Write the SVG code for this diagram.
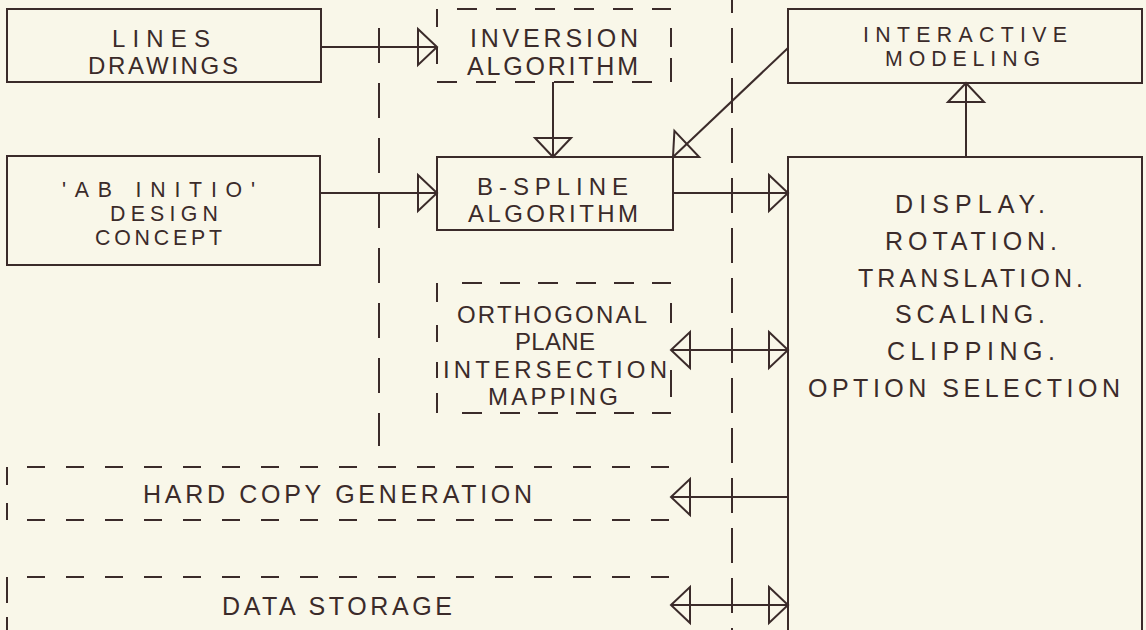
<svg xmlns="http://www.w3.org/2000/svg" width="1146" height="630" viewBox="0 0 1146 630">
<style>
.bg{fill:#f9f7e9}
.box{fill:none;stroke:#3b2b2a;stroke-width:2}
.dash{fill:none;stroke:#3b2b2a;stroke-width:2}
.conn{fill:none;stroke:#3b2b2a;stroke-width:2}
text{font-family:"Liberation Sans",Arial,sans-serif;font-size:25px;fill:#3b2b2a}
text.s24{font-size:24px}
text.s21{font-size:21.3px}
</style>
<defs>
<marker id="ah" markerUnits="userSpaceOnUse" markerWidth="30" markerHeight="44" viewBox="-22 -22 26 44" refX="0" refY="0" orient="auto-start-reverse">
<path d="M-19,-18 L0,0 L-19,18 Z" fill="none" stroke="#3b2b2a" stroke-width="2" stroke-linejoin="miter"/>
</marker>
</defs>
<rect class="bg" x="0" y="0" width="1146" height="630"/>

<g id="boundaries">
<path class="dash" d="M379,28 V446" stroke-dasharray="35 20"/>
<path class="dash" d="M732,-22 V630" stroke-dasharray="35 15"/>
</g>

<g id="lines-drawings">
<rect class="box" x="7" y="9" width="314" height="73"/>
<text class="s24" x="112" y="47" textLength="98" lengthAdjust="spacing">LINES</text>
<text class="s24" x="88" y="74" textLength="150" lengthAdjust="spacing">DRAWINGS</text>
</g>

<g id="ab-initio">
<rect class="box" x="7" y="156" width="313" height="109"/>
<text class="s21" x="62" y="197" textLength="193" lengthAdjust="spacing">'AB INITIO'</text>
<text class="s21" x="110" y="221" textLength="108" lengthAdjust="spacing">DESIGN</text>
<text class="s21" x="95" y="245" textLength="127" lengthAdjust="spacing">CONCEPT</text>
</g>

<g id="inversion">
<path class="dash" d="M457,9 H671" stroke-dasharray="20 19"/>
<path class="dash" d="M437,82 H671" stroke-dasharray="20 19"/>
<path class="dash" d="M437,9 V27 M437,47 V64"/>
<path class="dash" d="M671,28 V47 M671,58 V82"/>
<text x="470" y="47" textLength="168" lengthAdjust="spacing">INVERSION</text>
<text x="467" y="75" textLength="171" lengthAdjust="spacing">ALGORITHM</text>
</g>

<g id="bspline">
<rect class="box" x="437" y="157" width="236" height="73"/>
<text class="s24" x="477" y="195" textLength="151" lengthAdjust="spacing">B-SPLINE</text>
<text class="s24" x="468" y="222" textLength="170" lengthAdjust="spacing">ALGORITHM</text>
</g>

<g id="interactive">
<rect class="box" x="788" y="9" width="354" height="74"/>
<text class="s21" x="863" y="42" textLength="204" lengthAdjust="spacing">INTERACTIVE</text>
<text class="s21" x="885" y="66" textLength="155" lengthAdjust="spacing">MODELING</text>
</g>

<g id="display">
<rect class="box" x="788" y="157" width="354" height="480"/>
<text x="895" y="213" textLength="150" lengthAdjust="spacing">DISPLAY.</text>
<text x="885" y="250" textLength="172" lengthAdjust="spacing">ROTATION.</text>
<text x="858" y="287" textLength="225" lengthAdjust="spacing">TRANSLATION.</text>
<text x="895" y="323" textLength="150" lengthAdjust="spacing">SCALING.</text>
<text x="887" y="360" textLength="168" lengthAdjust="spacing">CLIPPING.</text>
<text x="808" y="397" textLength="312" lengthAdjust="spacing">OPTION SELECTION</text>
</g>

<g id="orthogonal">
<path class="dash" d="M462,283 H671" stroke-dasharray="20 18"/>
<path class="dash" d="M462,413 H671" stroke-dasharray="20 18"/>
<path class="dash" d="M437,283 V302 M437,325 V342 M437,362 V378 M437,393 V413"/>
<path class="dash" d="M671,303 V323 M671,370 V397"/>
<text class="s24" x="457" y="323" textLength="190" lengthAdjust="spacing">ORTHOGONAL</text>
<text class="s24" x="515" y="350" textLength="80" lengthAdjust="spacing">PLANE</text>
<text class="s24" x="443" y="378" textLength="224" lengthAdjust="spacing">INTERSECTION</text>
<text class="s24" x="488" y="405" textLength="130" lengthAdjust="spacing">MAPPING</text>
</g>

<g id="hardcopy">
<path class="dash" d="M27,467 H670" stroke-dasharray="18 21"/>
<path class="dash" d="M27,520 H670" stroke-dasharray="18 21"/>
<path class="dash" d="M7,467 V485 M7,503 V520"/>
<text x="143" y="503" textLength="389" lengthAdjust="spacing">HARD COPY GENERATION</text>
</g>

<g id="datastorage">
<path class="dash" d="M27,577 H670" stroke-dasharray="18 21"/>
<path class="dash" d="M7,577 V603 M7,617 V630"/>
<text x="222" y="615" textLength="230" lengthAdjust="spacing">DATA STORAGE</text>
</g>

<g id="connectors">
<path class="conn" d="M321,47 H437" marker-end="url(#ah)"/>
<path class="conn" d="M320,193 H437" marker-end="url(#ah)"/>
<path class="conn" d="M553,82 V157" marker-end="url(#ah)"/>
<path class="conn" d="M788,48 L673,157" marker-end="url(#ah)"/>
<path class="conn" d="M673,193 H788" marker-end="url(#ah)"/>
<path class="conn" d="M966,157 V83" marker-end="url(#ah)"/>
<path class="conn" d="M671,350 H788" marker-start="url(#ah)" marker-end="url(#ah)"/>
<path class="conn" d="M788,497 H671" marker-end="url(#ah)"/>
<path class="conn" d="M671,605 H788" marker-start="url(#ah)" marker-end="url(#ah)"/>
</g>
</svg>
